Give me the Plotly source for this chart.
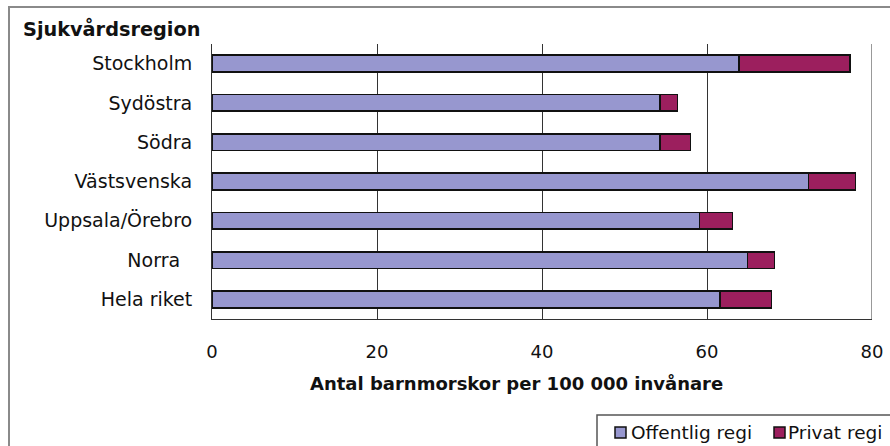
import plotly.graph_objects as go

regions = ["Stockholm", "Sydöstra", "Södra", "Västsvenska", "Uppsala/Örebro", "Norra\u00a0\u00a0", "Hela riket"]
offentlig = [63.9, 54.3, 54.3, 72.3, 59.1, 64.9, 61.6]
privat = [13.4, 2.1, 3.7, 5.7, 4.0, 3.3, 6.2]
x_ticks = [0, 20, 40, 60, 80]
series_names = ["Offentlig regi", "Privat regi"]
series_colors = ["#9797CF", "#9C1F5E"]

W, H = 890, 446
L, R, T, B = 212, 18, 44, 127
pw, ph = W - L - R, H - T - B

def px(xp):
    return (xp - L) / pw

def py(yp):
    return (H - B - yp) / ph

fig = go.Figure()
for name, vals, col in zip(series_names, [offentlig, privat], series_colors):
    fig.add_trace(go.Bar(
        y=regions, x=vals, orientation="h", name=name,
        marker=dict(color=col, line=dict(color="#111111", width=1.6)),
    ))

fig.update_layout(
    width=W, height=H,
    barmode="stack", bargap=0.575,
    margin=dict(l=L, r=R, t=T, b=B, autoexpand=False),
    paper_bgcolor="white", plot_bgcolor="white",
    font=dict(family="DejaVu Sans", color="#111111"),
    xaxis=dict(
        range=[0, 80], tickvals=x_ticks, ticks="", showgrid=True,
        gridcolor="#333333", gridwidth=1, showline=True, linecolor="#333333",
        linewidth=1, zeroline=False, tickfont=dict(size=18, family="DejaVu Sans"),
        ticklabelstandoff=16,
    ),
    yaxis=dict(
        categoryorder="array", categoryarray=regions, autorange="reversed",
        showline=True, linecolor="#333333", linewidth=1, ticks="",
        tickfont=dict(size=19, family="DejaVu Sans"), ticklabelstandoff=15,
        showgrid=False,
    ),
    showlegend=False,
)

# right frame line at x=80
fig.add_shape(type="line", xref="x", yref="paper", x0=80, x1=80, y0=0, y1=1,
              line=dict(color="#333333", width=1))
# outer chart border
fig.add_shape(type="rect", xref="paper", yref="paper",
              x0=px(9), x1=px(940), y0=py(7), y1=py(500),
              line=dict(color="#8a8a8a", width=2), fillcolor="rgba(0,0,0,0)")

# manual legend box
fig.add_shape(type="rect", xref="paper", yref="paper",
              x0=px(597), x1=px(940), y0=py(415), y1=py(500),
              line=dict(color="#555555", width=1.5), fillcolor="white")
leg_sq = [615, 774]
leg_txt = [629, 786]
for name, col, sx, tx in zip(series_names, series_colors, leg_sq, leg_txt):
    fig.add_shape(type="rect", xref="paper", yref="paper",
                  x0=px(sx), x1=px(sx + 11), y0=py(427), y1=py(438),
                  line=dict(color="#111111", width=1.5), fillcolor=col)
    fig.add_annotation(text=name, xref="paper", yref="paper",
                       x=px(tx), y=py(432), xanchor="left", yanchor="middle",
                       showarrow=False,
                       font=dict(size=18.5, family="DejaVu Sans", color="#111111"))

fig.add_annotation(text="<b>Sjukvårdsregion</b>", xref="paper", yref="paper",
                   x=px(21), y=py(29), xanchor="left", yanchor="middle",
                   showarrow=False, font=dict(size=19.3, family="DejaVu Sans", color="#111111"))
fig.add_annotation(text="<b>Antal barnmorskor per 100 000 invånare</b>", xref="paper", yref="paper",
                   x=px(516), y=py(383), xanchor="center", yanchor="middle",
                   showarrow=False, font=dict(size=18, family="DejaVu Sans", color="#111111"))

fig.write_html("out.html")
